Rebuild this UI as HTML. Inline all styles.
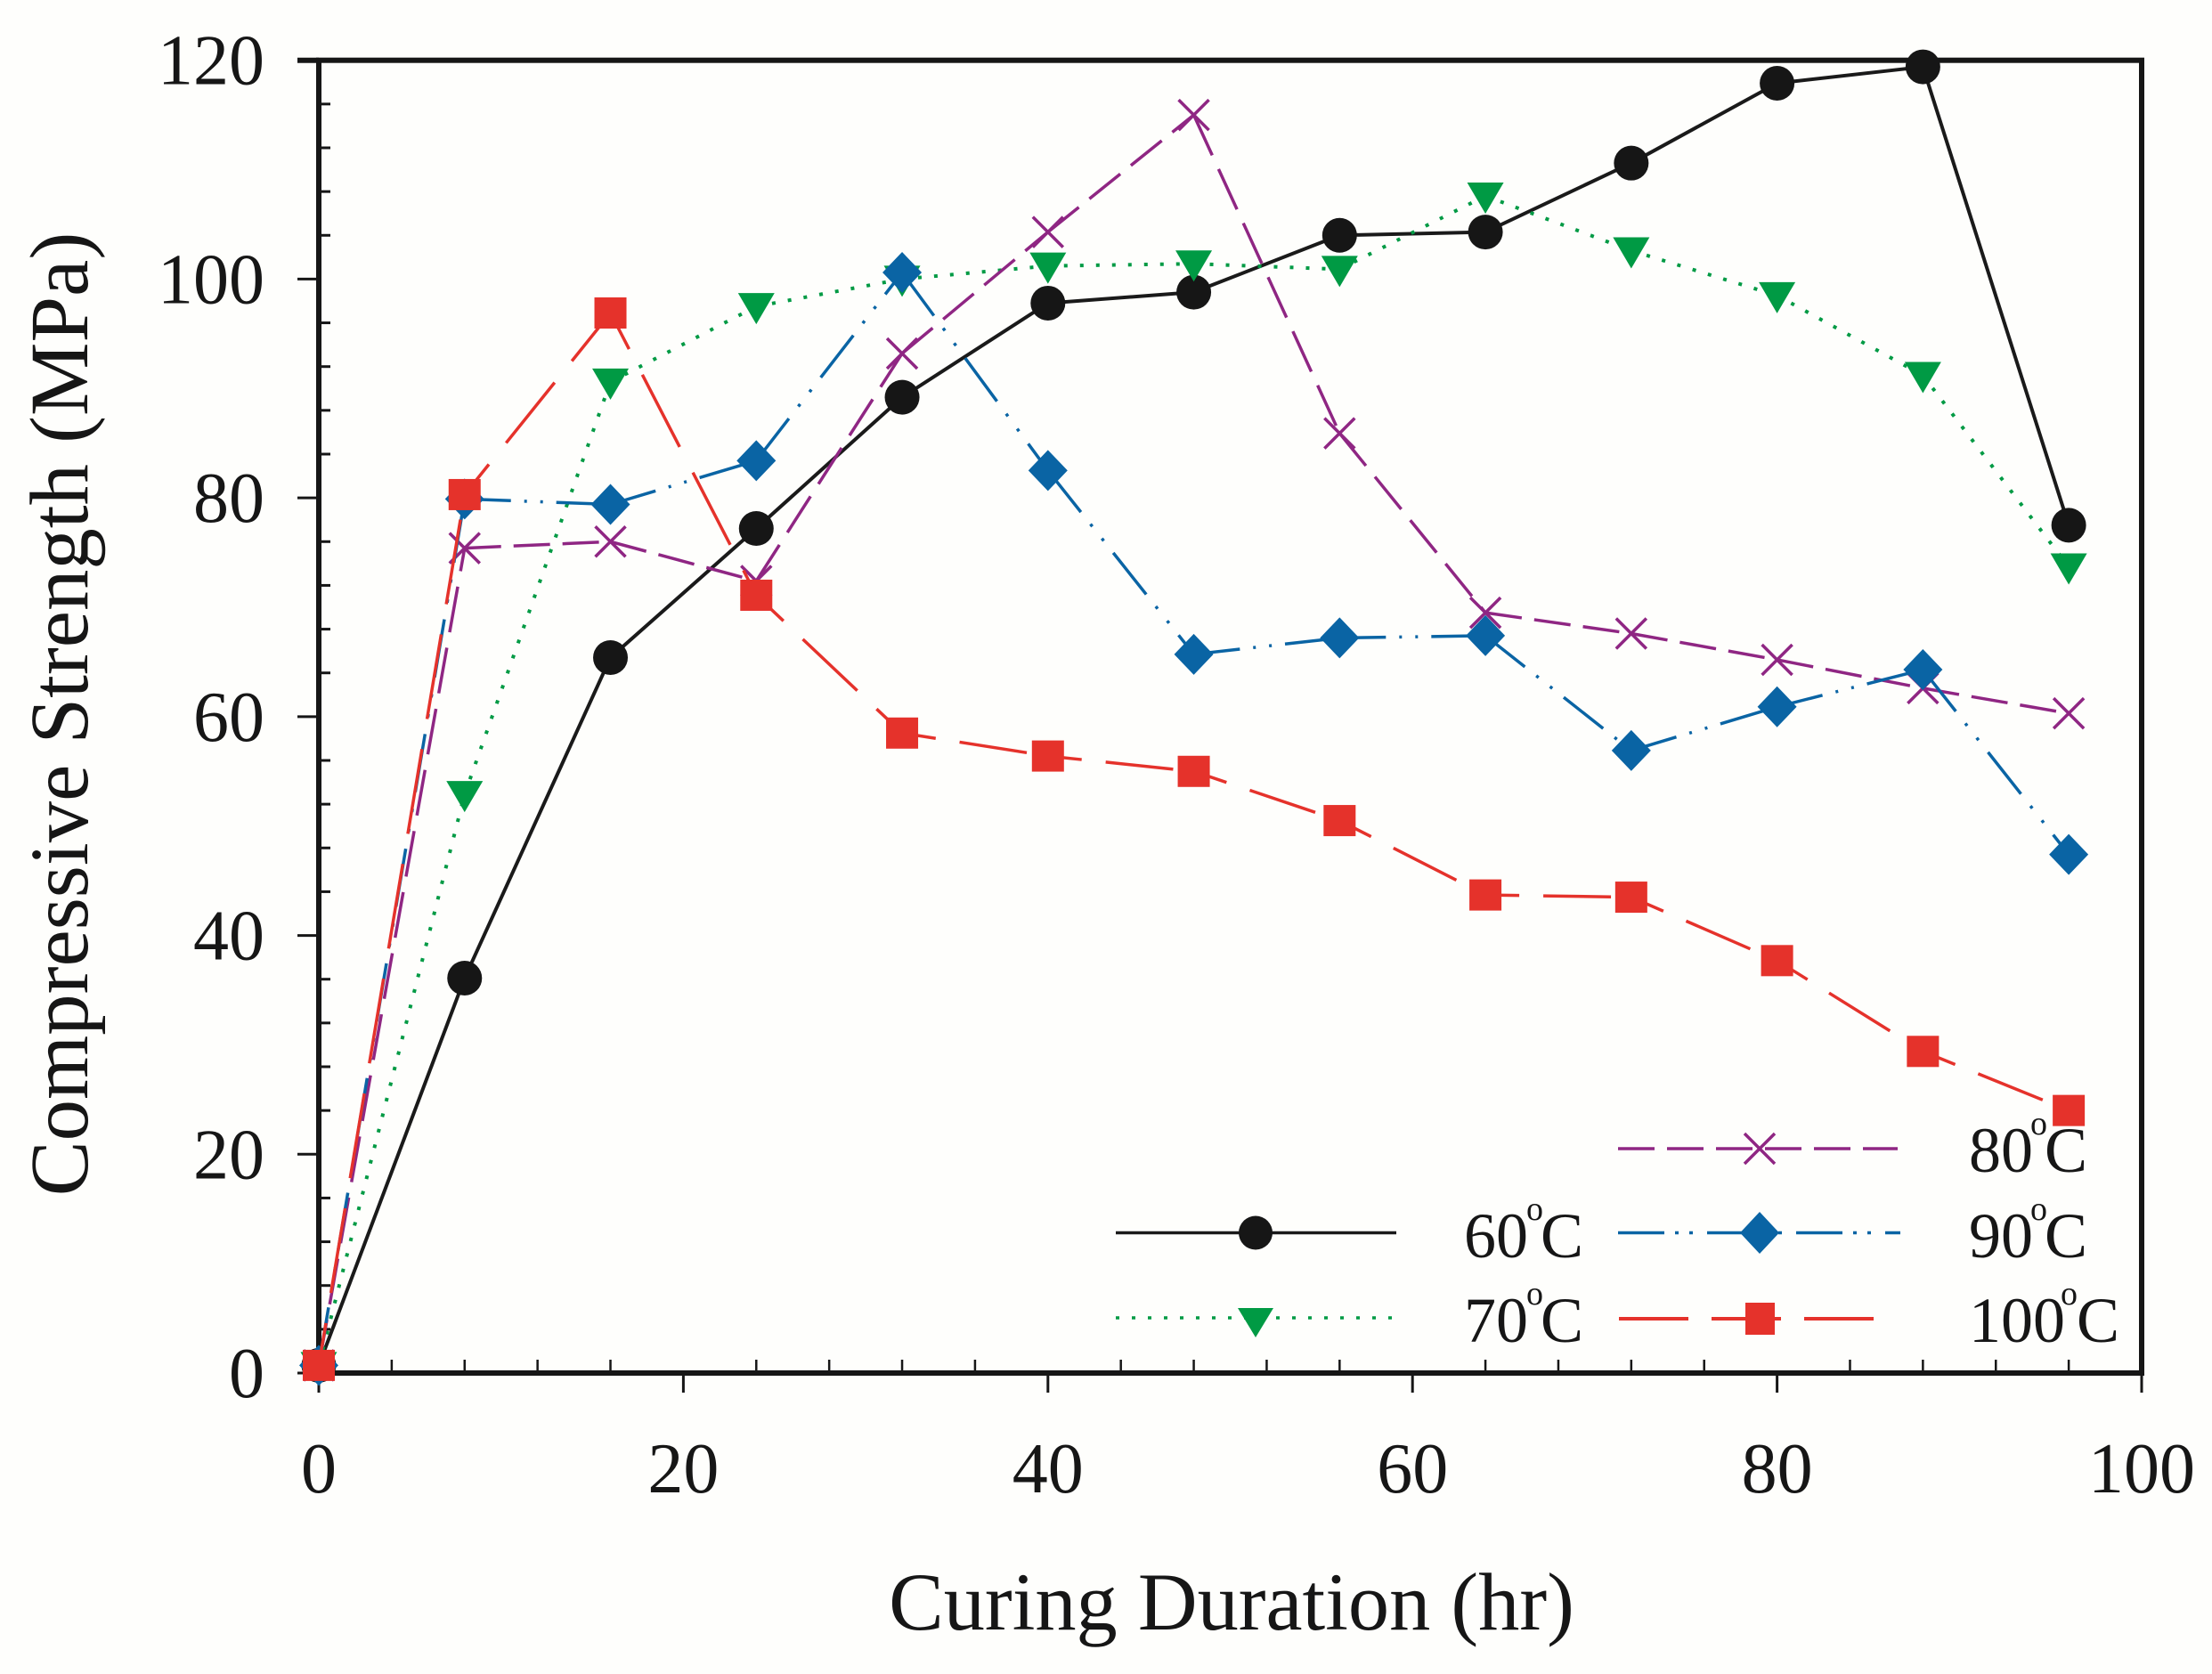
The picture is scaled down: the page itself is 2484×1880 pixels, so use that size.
<!DOCTYPE html>
<html lang="en">
<head>
<meta charset="utf-8">
<title>Compressive Strength vs Curing Duration</title>
<style>
html,body{margin:0;padding:0;background:#fefefc;}
svg{display:block;}
text{font-family:"Liberation Serif","Times New Roman",serif;fill:#161616;}
</style>
</head>
<body>
<svg id="chart" xmlns="http://www.w3.org/2000/svg" width="2484" height="1880" viewBox="0 0 2484 1880">
  <rect x="0" y="0" width="2484" height="1880" fill="#fefefc"/>
  <g id="axes"></g>
  <g id="series"></g>
  <text x="1383" y="1830" font-size="92.4" text-anchor="middle">Curing Duration (hr)</text>
  <text transform="translate(98,802) rotate(-90)" font-size="92.8" text-anchor="middle">Compressive Strength (MPa)</text>

  <g>
    <g>
      <line x1="1253" y1="1384.5" x2="1568" y2="1384.5" stroke="#1a1a1a" stroke-width="3.5"/>
      <circle cx="1410" cy="1384.5" r="19" fill="#161616"/>
      <text font-size="72"><tspan x="1644" y="1412">60</tspan><tspan x="1714" y="1370" font-size="38">o</tspan><tspan x="1730" y="1412">C</tspan></text>
    </g>
    <g>
      <line x1="1253" y1="1480" x2="1568" y2="1480" stroke="#009a44" stroke-width="3.5" stroke-dasharray="4 14"/>
      <polygon points="1390,1469 1430,1469 1410,1502" fill="#009a44"/>
      <text font-size="72"><tspan x="1644" y="1507">70</tspan><tspan x="1714" y="1465" font-size="38">o</tspan><tspan x="1730" y="1507">C</tspan></text>
    </g>
    <g>
      <line x1="1817" y1="1290" x2="2131" y2="1290" stroke="#8f2683" stroke-width="3.5" stroke-dasharray="41 14"/>
      <path d="M1959,1273 L1993,1307 M1993,1273 L1959,1307" stroke="#8f2683" stroke-width="3.5" fill="none"/>
      <text font-size="72"><tspan x="2211" y="1316">80</tspan><tspan x="2280" y="1274" font-size="38">o</tspan><tspan x="2296" y="1316">C</tspan></text>
    </g>
    <g>
      <line x1="1817" y1="1384.5" x2="2134" y2="1384.5" stroke="#0a64a4" stroke-width="3.5" stroke-dasharray="52 12 4 12 4 16"/>
      <polygon points="1976,1361 1998,1384.5 1976,1408 1954,1384.5" fill="#0a64a4"/>
      <text font-size="72"><tspan x="2211" y="1412">90</tspan><tspan x="2280" y="1370" font-size="38">o</tspan><tspan x="2296" y="1412">C</tspan></text>
    </g>
    <g>
      <line x1="1818" y1="1481" x2="2104" y2="1481" stroke="#e5322b" stroke-width="4" stroke-dasharray="78 26"/>
      <rect x="1960" y="1463" width="33" height="36" fill="#e5322b"/>
      <text font-size="72"><tspan x="2211" y="1507">100</tspan><tspan x="2314" y="1465" font-size="38">o</tspan><tspan x="2332" y="1507">C</tspan></text>
    </g>
  </g>
</svg>

<script>
const xMajorTicks = [0, 20, 40, 60, 80, 100];
const yMajorTicks = [0, 20, 40, 60, 80, 100, 120];
const minorStep = 4;
const hours = [0, 8, 16, 24, 32, 40, 48, 56, 64, 72, 80, 88, 96];
const strength60 = [0.7, 36.1, 65.4, 77.2, 89.2, 97.8, 98.8, 104, 104.3, 110.6, 117.9, 119.4, 77.5];
const strength70 = [0.7, 52.9, 90.6, 97.5, 100, 101.2, 101.4, 100.9, 107.6, 102.6, 98.5, 91.2, 73.7];
const strength80 = [0.7, 75.4, 76, 72.4, 93.2, 104.3, 115, 85.9, 69.5, 67.6, 65.2, 62.6, 60.3];
const strength90 = [0.7, 79.9, 79.4, 83.4, 100.6, 82.5, 65.7, 67.2, 67.4, 56.9, 60.9, 64.3, 47.4];
const strength100 = [0.7, 80.3, 96.9, 71.1, 58.5, 56.4, 55, 50.5, 43.7, 43.5, 37.7, 29.4, 24];

const NS = 'http://www.w3.org/2000/svg';
const plot = { left: 358, right: 2405, top: 67.7, bottom: 1542 };
const xDomainMax = xMajorTicks[xMajorTicks.length - 1];
const yDomainMax = yMajorTicks[yMajorTicks.length - 1];
function xScale(v) { return plot.left + (v / xDomainMax) * (plot.right - plot.left); }
function yScale(v) { return plot.bottom - (v / yDomainMax) * (plot.bottom - plot.top); }

function make(tag, attrs, parent) {
  const el = document.createElementNS(NS, tag);
  for (const k in attrs) el.setAttribute(k, attrs[k]);
  parent.appendChild(el);
  return el;
}

const axes = document.getElementById('axes');
const seriesLayer = document.getElementById('series');
const INK = '#161616';

/* minor ticks */
for (let v = 0; v <= xDomainMax; v += minorStep) {
  if (v % 20 === 0) continue;
  const t = make('line', { x1: xScale(v), x2: xScale(v), y1: plot.bottom, y2: plot.bottom - 15, stroke: INK, 'stroke-width': 2.5 }, axes);
  
  
}
for (let v = 0; v <= yDomainMax; v += minorStep) {
  if (v % 20 === 0) continue;
  const t = make('line', { x1: plot.left, x2: plot.left + 13, y1: yScale(v), y2: yScale(v), stroke: INK, 'stroke-width': 3 }, axes);
  
  
}

/* major ticks + labels */
xMajorTicks.forEach(function (v) {
  const t = make('line', { x1: xScale(v), x2: xScale(v), y1: plot.bottom, y2: plot.bottom + 22, stroke: INK, 'stroke-width': 3 }, axes);
  
  
  const l = make('text', { x: xScale(v), y: 1676, 'font-size': 80, 'text-anchor': 'middle' }, axes);
  
  
  l.textContent = String(v);
});
yMajorTicks.forEach(function (v) {
  const t = make('line', { x1: plot.left - 24, x2: plot.left, y1: yScale(v), y2: yScale(v), stroke: INK, 'stroke-width': v === yDomainMax ? 6 : 3 }, axes);
  
  
  const l = make('text', { x: 297, y: yScale(v) + 27, 'font-size': 80, 'text-anchor': 'end' }, axes);
  
  
  l.textContent = String(v);
});

/* frame */
const frame = make('rect', { x: plot.left, y: plot.top, width: plot.right - plot.left, height: plot.bottom - plot.top, fill: 'none', stroke: INK, 'stroke-width': 6 }, axes);



/* series: the dash pattern restarts on every segment, and steep segments draw longer dashes */
function drawSeries(name, values, color, width, dash, startOffset, stretch, markerFn) {
  const group = make('g', {}, seriesLayer);
  
  
  for (let i = 0; i < values.length - 1; i++) {
    const x1 = xScale(hours[i]), y1 = yScale(values[i]);
    const x2 = xScale(hours[i + 1]), y2 = yScale(values[i + 1]);
    const dx = x2 - x1, dy = y2 - y1;
    const f = Math.hypot(dx, dy) / Math.hypot(dx, dy / stretch);
    const attrs = { x1: x1, y1: y1, x2: x2, y2: y2, stroke: color, 'stroke-width': width };
    if (dash) {
      attrs['stroke-dasharray'] = dash.map(function (d) { return (d * f).toFixed(1); }).join(' ');
      attrs['stroke-dashoffset'] = (startOffset * f).toFixed(1);
    }
    const seg = make('line', attrs, group);
    
    
  }
  values.forEach(function (v, i) {
    const m = markerFn(xScale(hours[i]), yScale(v), color, group);
    
    
  });
}
function circleMark(x, y, c, g) { return make('circle', { cx: x, cy: y, r: 19.5, fill: '#161616' }, g); }
function triMark(x, y, c, g) { return make('polygon', { points: (x - 20.5) + ',' + (y - 15) + ' ' + (x + 20.5) + ',' + (y - 15) + ' ' + x + ',' + (y + 20), fill: c }, g); }
function crossMark(x, y, c, g) { return make('path', { d: 'M' + (x - 17) + ',' + (y - 17) + 'L' + (x + 17) + ',' + (y + 17) + 'M' + (x + 17) + ',' + (y - 17) + 'L' + (x - 17) + ',' + (y + 17), stroke: c, 'stroke-width': 3.5, fill: 'none' }, g); }
function diamondMark(x, y, c, g) { return make('polygon', { points: x + ',' + (y - 23) + ' ' + (x + 22) + ',' + y + ' ' + x + ',' + (y + 23) + ' ' + (x - 22) + ',' + y, fill: c }, g); }
function squareMark(x, y, c, g) { return make('rect', { x: x - 18, y: y - 17.5, width: 36, height: 35, fill: c }, g); }

drawSeries('60c', strength60, '#1a1a1a', 4, null, 0, 1, circleMark);
drawSeries('70c', strength70, '#009a44', 4, [4, 14], 0, 1, triMark);
drawSeries('80c', strength80, '#8f2683', 3.5, [41, 14], 0, 1.28, crossMark);
drawSeries('90c', strength90, '#0a64a4', 3.5, [52, 15, 3, 15, 3, 15], 0, 1.28, diamondMark);
drawSeries('100c', strength100, '#e5322b', 3.5, [76, 27], 38, 1.28, squareMark);
</script>
</body>
</html>
